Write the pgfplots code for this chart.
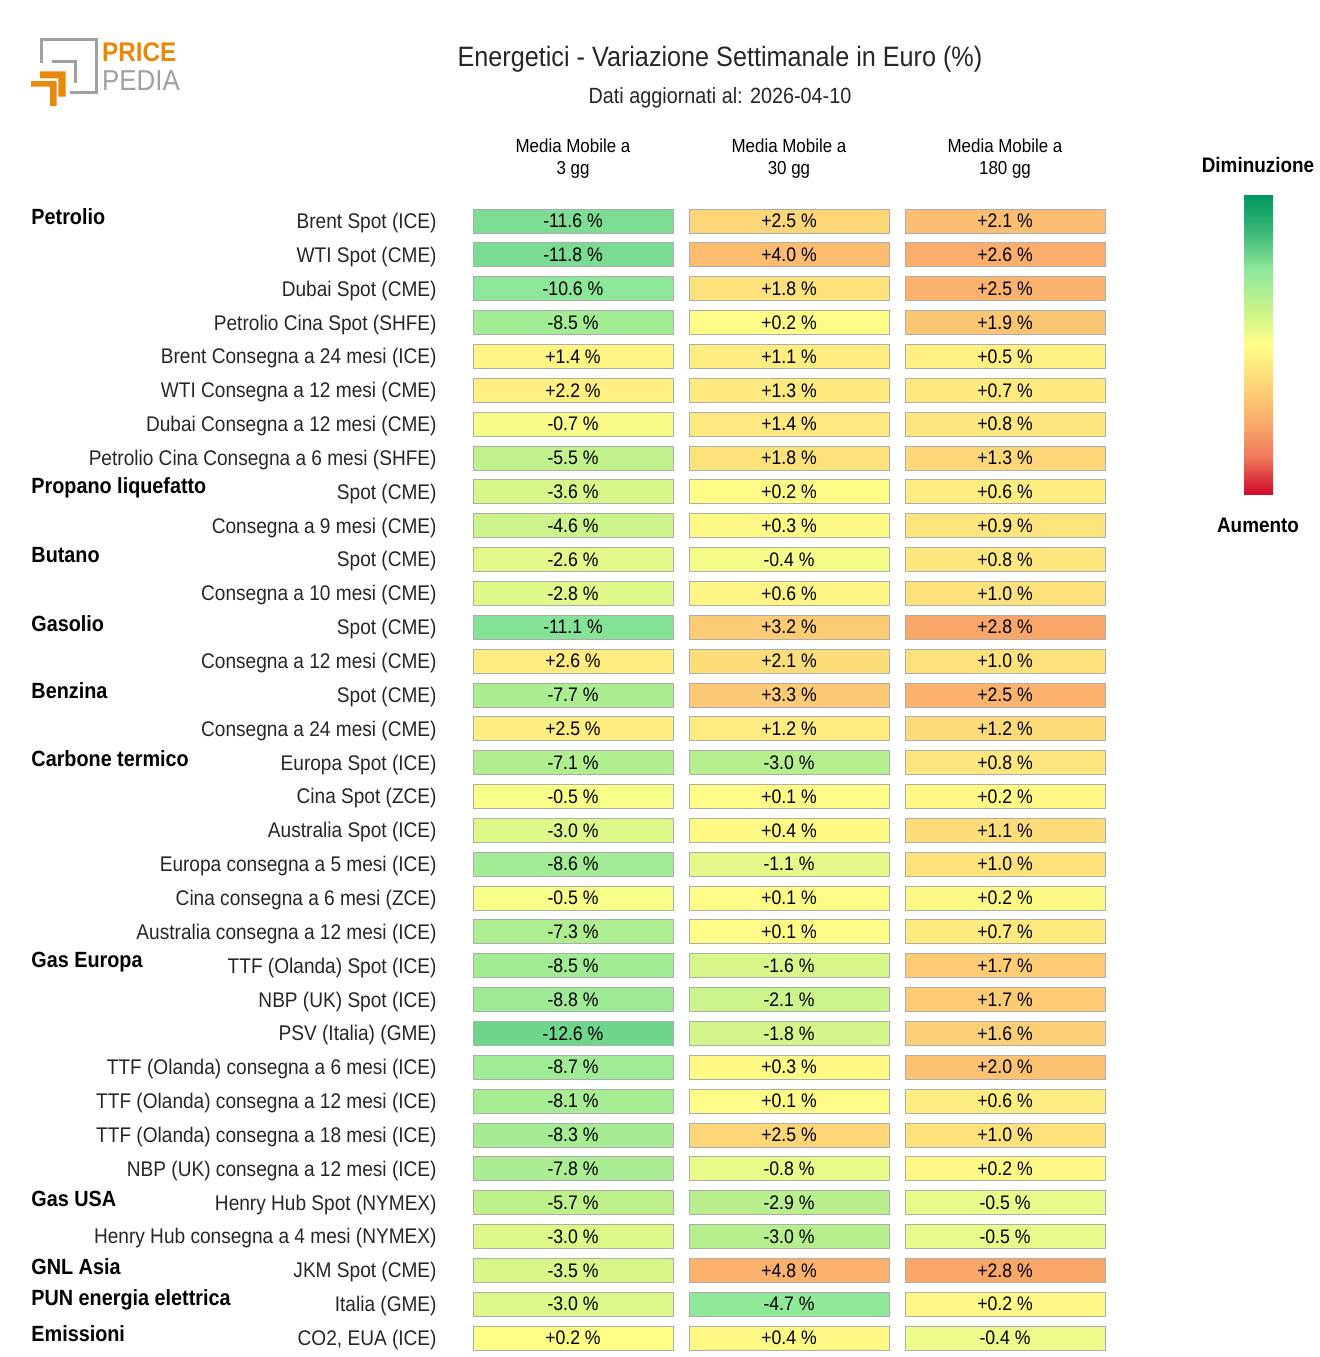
\documentclass[border=0pt]{standalone}
\usepackage{pgfplots}
\pgfplotsset{compat=1.18}
\usepackage{pgfplotstable}
\usepackage{fontspec}
\setmainfont{Liberation Sans}[FakeStretch=0.9]

\definecolor{ppOrange}{RGB}{232,137,12}
\definecolor{ppGray}{RGB}{160,160,160}
\definecolor{c0}{RGB}{0,150,95}
\definecolor{c1}{RGB}{60,185,120}
\definecolor{c2}{RGB}{142,232,154}
\definecolor{c3}{RGB}{196,242,138}
\definecolor{c4}{RGB}{255,255,136}
\definecolor{c5}{RGB}{253,216,120}
\definecolor{c6}{RGB}{251,176,108}
\definecolor{c7}{RGB}{239,122,92}
\definecolor{c8}{RGB}{208,10,40}

% green (decrease) -> yellow -> red (increase)
\pgfplotsset{colormap={pp}{rgb255=(0,150,95) rgb255=(60,185,120) rgb255=(142,232,154)
  rgb255=(196,242,138) rgb255=(255,255,136) rgb255=(253,216,120) rgb255=(251,176,108)
  rgb255=(239,122,92) rgb255=(208,10,40)}}

% same scale for the bar on the right (red at the bottom)
\pgfdeclareverticalshading{ppbar}{100bp}{color(0bp)=(c8); color(25bp)=(c8);
  color(31.25bp)=(c7); color(37.5bp)=(c6); color(43.75bp)=(c5); color(50bp)=(c4);
  color(56.25bp)=(c3); color(62.5bp)=(c2); color(68.75bp)=(c1); color(75bp)=(c0);
  color(100bp)=(c0)}

% one table cell, 200x24 px
\pgfdeclareplotmark{cell}{%
  \pgfpathrectangle{\pgfpoint{-50pt}{-6pt}}{\pgfpoint{100pt}{12pt}}%
  \pgfusepathqfillstroke}

\pgfplotstableread{
row m3 m30 m180
1 -11.6 2.5 2.1
2 -11.8 4.0 2.6
3 -10.6 1.8 2.5
4 -8.5 0.2 1.9
5 1.4 1.1 0.5
6 2.2 1.3 0.7
7 -0.7 1.4 0.8
8 -5.5 1.8 1.3
9 -3.6 0.2 0.6
10 -4.6 0.3 0.9
11 -2.6 -0.4 0.8
12 -2.8 0.6 1.0
13 -11.1 3.2 2.8
14 2.6 2.1 1.0
15 -7.7 3.3 2.5
16 2.5 1.2 1.2
17 -7.1 -3.0 0.8
18 -0.5 0.1 0.2
19 -3.0 0.4 1.1
20 -8.6 -1.1 1.0
21 -0.5 0.1 0.2
22 -7.3 0.1 0.7
23 -8.5 -1.6 1.7
24 -8.8 -2.1 1.7
25 -12.6 -1.8 1.6
26 -8.7 0.3 2.0
27 -8.1 0.1 0.6
28 -8.3 2.5 1.0
29 -7.8 -0.8 0.2
30 -5.7 -2.9 -0.5
31 -3.0 -3.0 -0.5
32 -3.5 4.8 2.8
33 -3.0 -4.7 0.2
34 0.2 0.4 -0.4
}\datatable

\pgfplotsset{
  cellaxis/.style={
    at={(232.5pt,-102.04pt)}, anchor=north west,
    scale only axis, width=324pt, height=575.42pt,
    xmin=0.5, xmax=3.5, ymin=0.5, ymax=34.5, y dir=reverse,
    axis line style={draw=none}, tick style={draw=none},
    major tick length=0pt, xtick=\empty, ytick=\empty,
    clip=false, colormap name=pp,
  },
  % coloured boxes
  cells/.style={
    scatter, only marks, mark=cell, point meta=explicit,
    scatter/use mapped color={draw=black!32, fill=mapped color},
  },
  % the numbers written in the boxes
  vals/.style={
    only marks, mark=none, point meta=explicit,
    nodes near coords={\pgfmathprintnumber[fixed, fixed zerofill, precision=1,
      showpos, assume math mode=true]{\pgfplotspointmeta}~\%},
    every node near coord/.append style={anchor=center, text=black,
      font=\fontsize{9.8}{11}\selectfont},
  },
}
\tikzset{
  grp/.style={anchor=west, inner sep=0pt, yshift=2pt,
    font=\fontsize{11}{13}\selectfont\bfseries},
  hdr/.style={align=center, font=\fontsize{9.4}{11}\selectfont},
}

\begin{document}
\begin{tikzpicture}
\path[use as bounding box] (0,0) rectangle (660pt,-678.5pt);

% logo
\draw[ppGray, line width=1.5pt] (20.85pt,-31.65pt) -- (20.85pt,-19.65pt)
  -- (48.35pt,-19.65pt) -- (48.35pt,-46.35pt) -- (35pt,-46.35pt);
\draw[ppGray, line width=1.5pt] (25.85pt,-30.85pt) -- (37.5pt,-30.85pt) -- (37.5pt,-41.65pt);
\fill[ppOrange] (20pt,-35.65pt) -- (32.85pt,-35.65pt) -- (32.85pt,-48.35pt)
  -- (29.15pt,-48.35pt) -- (29.15pt,-39.15pt) -- (20pt,-39.15pt) -- cycle;
\fill[ppOrange] (15.5pt,-40.5pt) -- (28.35pt,-40.5pt) -- (28.35pt,-53pt)
  -- (25pt,-53pt) -- (25pt,-43.35pt) -- (15.5pt,-43.35pt) -- cycle;
\node[anchor=base west, inner sep=0pt, text=ppOrange, font=\fontsize{13.5}{14}\selectfont\bfseries]
  at (50.85pt,-30.85pt) {PRICE};
\node[anchor=base west, inner sep=0pt, text=ppGray, font=\fontsize{14.4}{15}\selectfont]
  at (50.85pt,-45.35pt) {PEDIA};

% titles
\node[text=black!85, font=\fontsize{14}{16}\selectfont] at (360pt,-29.5pt)
  {Energetici - Variazione Settimanale in Euro (\%)};
\node[text=black!85, font=\fontsize{11}{13}\selectfont] at (360pt,-49pt)
  {Dati aggiornati al: 2026-04-10};

% colour scale
\node[font=\fontsize{10.5}{12}\selectfont\bfseries] at (629pt,-82.5pt) {Diminuzione};
\node[font=\fontsize{10.5}{12}\selectfont\bfseries] at (629pt,-262.5pt) {Aumento};
\shade[shading=ppbar] (622pt,-247pt) rectangle (636.5pt,-97.5pt);

% column 1 with row labels
\begin{axis}[cellaxis,
    ytick={1,...,34},
    yticklabel style={anchor=east, inner sep=0pt, xshift=-14pt, yshift=-1pt,
      text=black!85, font=\fontsize{10.6}{12}\selectfont},
    yticklabels={Brent Spot (ICE), WTI Spot (CME), Dubai Spot (CME),
      Petrolio Cina Spot (SHFE), Brent Consegna a 24 mesi (ICE),
      WTI Consegna a 12 mesi (CME), Dubai Consegna a 12 mesi (CME),
      Petrolio Cina Consegna a 6 mesi (SHFE), Spot (CME), Consegna a 9 mesi (CME),
      Spot (CME), Consegna a 10 mesi (CME), Spot (CME), Consegna a 12 mesi (CME),
      Spot (CME), Consegna a 24 mesi (CME), Europa Spot (ICE), Cina Spot (ZCE),
      Australia Spot (ICE), Europa consegna a 5 mesi (ICE),
      Cina consegna a 6 mesi (ZCE), Australia consegna a 12 mesi (ICE),
      TTF (Olanda) Spot (ICE), NBP (UK) Spot (ICE), PSV (Italia) (GME),
      TTF (Olanda) consegna a 6 mesi (ICE), TTF (Olanda) consegna a 12 mesi (ICE),
      TTF (Olanda) consegna a 18 mesi (ICE), NBP (UK) consegna a 12 mesi (ICE),
      Henry Hub Spot (NYMEX), Henry Hub consegna a 4 mesi (NYMEX), JKM Spot (CME),
      Italia (GME), {CO2, EUA (ICE)}},
    point meta min=-21, point meta max=21,
]
\addplot[cells] table[x expr=1, y=row, meta=m3] {\datatable};
\addplot[vals] table[x expr=1, y=row, meta=m3] {\datatable};
\node[hdr] at (axis cs:1,-0.84) {Media Mobile a\\3 gg};
\node[hdr] at (axis cs:2,-0.84) {Media Mobile a\\30 gg};
\node[hdr] at (axis cs:3,-0.84) {Media Mobile a\\180 gg};
\node[grp] at (axis cs:-1.509,1) {Petrolio};
\node[grp] at (axis cs:-1.509,9) {Propano liquefatto};
\node[grp] at (axis cs:-1.509,11) {Butano};
\node[grp] at (axis cs:-1.509,13) {Gasolio};
\node[grp] at (axis cs:-1.509,15) {Benzina};
\node[grp] at (axis cs:-1.509,17) {Carbone termico};
\node[grp] at (axis cs:-1.509,23) {Gas Europa};
\node[grp] at (axis cs:-1.509,30) {Gas USA};
\node[grp] at (axis cs:-1.509,32) {GNL Asia};
\node[grp] at (axis cs:-1.509,33) {PUN energia elettrica};
\node[grp] at (axis cs:-1.509,34) {Emissioni};
\end{axis}

% column 2
\begin{axis}[cellaxis, point meta min=-9.6, point meta max=9.6]
\addplot[cells] table[x expr=2, y=row, meta=m30] {\datatable};
\addplot[vals] table[x expr=2, y=row, meta=m30] {\datatable};
\end{axis}

% column 3
\begin{axis}[cellaxis, point meta min=-5.1, point meta max=5.1]
\addplot[cells] table[x expr=3, y=row, meta=m180] {\datatable};
\addplot[vals] table[x expr=3, y=row, meta=m180] {\datatable};
\end{axis}
\end{tikzpicture}
\end{document}
